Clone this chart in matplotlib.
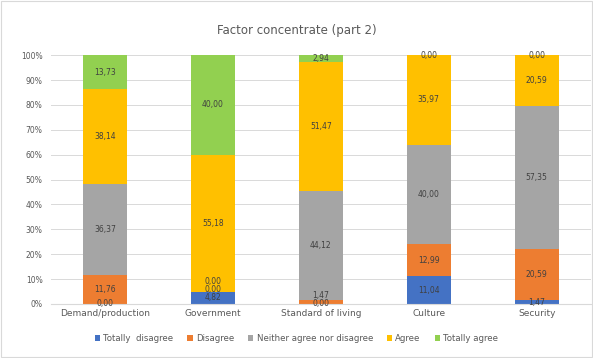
import matplotlib
matplotlib.use("Agg")
import matplotlib.pyplot as plt
from matplotlib.patches import Rectangle
import numpy as np

categories = ["Demand/production", "Government", "Standard of living", "Culture", "Security"]
series_names = ["Totally  disagree", "Disagree", "Neither agree nor disagree", "Agree", "Totally agree"]
totally_disagree = [0.00, 4.82, 0.00, 11.04, 1.47]
disagree = [11.76, 0.00, 1.47, 12.99, 20.59]
neither = [36.37, 0.00, 44.12, 40.00, 57.35]
agree = [38.14, 55.18, 51.47, 35.97, 20.59]
totally_agree = [13.73, 40.00, 2.94, 0.00, 0.00]
colors = ["#4472C4", "#ED7D31", "#A5A5A5", "#FFC000", "#92D050"]
yticks = [0, 10, 20, 30, 40, 50, 60, 70, 80, 90, 100]

series = [totally_disagree, disagree, neither, agree, totally_agree]

fig = plt.figure(figsize=(5.93, 3.58), dpi=100)
fig.patches.append(Rectangle((0.002, 0.003), 0.996, 0.994, transform=fig.transFigure,
                             fill=False, edgecolor="#D9D9D9", linewidth=0.8))
ax = fig.add_axes([0.086, 0.151, 0.91, 0.695])

x = np.arange(len(categories))
bottom = np.zeros(len(categories))
last_label_y = np.full(len(categories), -100.0)
min_gap = 3.4
for name, vals, c in zip(series_names, series, colors):
    vals = np.array(vals)
    ax.bar(x, vals, 0.41, bottom=bottom, color=c, label=name, zorder=2)
    for i, (xi, b, v) in enumerate(zip(x, bottom, vals)):
        y = b + v / 2
        if y - last_label_y[i] < min_gap and y < 50:
            y = last_label_y[i] + min_gap
        if y > 100 - 1.0:
            y = min(y, 100)
        last_label_y[i] = y
        ax.text(xi, y, f"{v:.2f}".replace(".", ","), ha="center", va="center",
                fontsize=5.5, color="#404040", zorder=3)
    bottom += vals

ax.set_xlim(-0.5, len(categories) - 0.5)
ax.set_ylim(0, 100)
ax.set_yticks(yticks)
ax.set_yticklabels([f"{t}%" for t in yticks])
ax.set_xticks(x)
ax.set_xticklabels(categories)
ax.tick_params(axis="y", labelsize=5.5, colors="#595959", length=0, pad=6)
ax.tick_params(axis="x", labelsize=6.5, colors="#595959", length=0, pad=4)
ax.grid(axis="y", color="#D9D9D9", linewidth=0.7, zorder=0)
for s in ["top", "right", "left"]:
    ax.spines[s].set_visible(False)
ax.spines["bottom"].set_color("#D9D9D9")

fig.text(0.5, 0.915, "Factor concentrate (part 2)", ha="center", va="center",
         fontsize=8.5, color="#595959")

fig.legend(loc="center", bbox_to_anchor=(0.5, 0.055), ncol=5, frameon=False,
           fontsize=6.2, handlelength=0.6, handleheight=0.6, columnspacing=1.6,
           handletextpad=0.4, labelcolor="#595959")

fig.savefig("out.png", dpi=100)
